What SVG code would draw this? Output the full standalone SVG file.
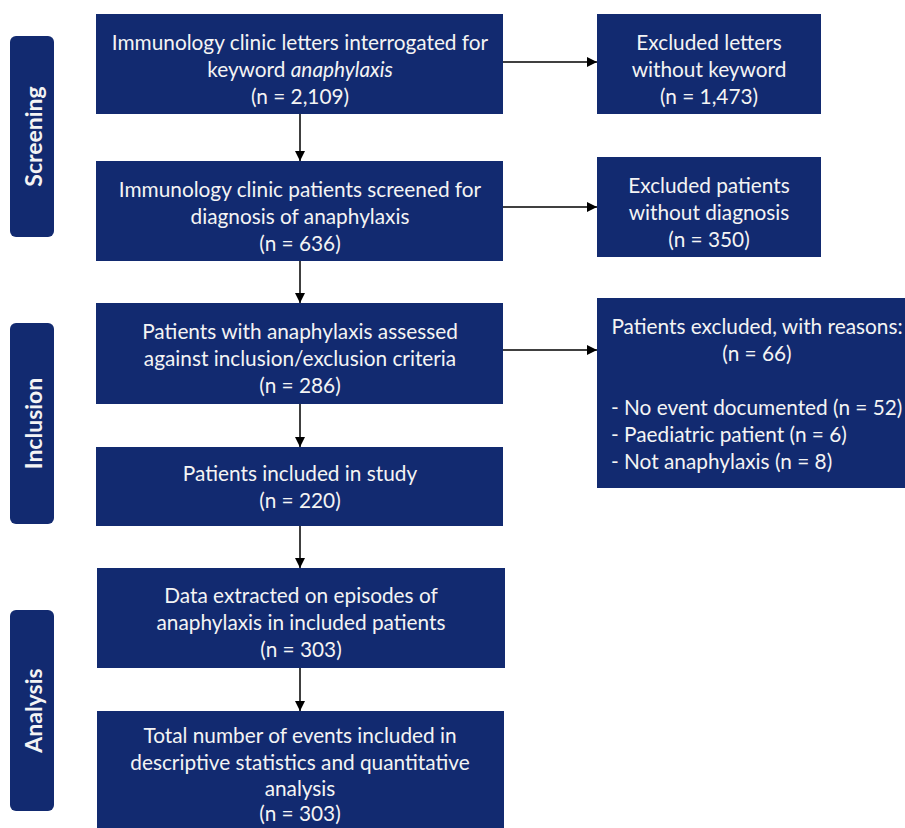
<svg xmlns="http://www.w3.org/2000/svg" width="905" height="828" viewBox="0 0 905 828">
<style>
.box{fill:#122a70;}
.side{fill:#122a70;}
.t{font-family:Lato,"Liberation Sans",sans-serif;font-size:20.8px;fill:#f4f4f4;text-anchor:middle;}
.tl{font-family:Lato,"Liberation Sans",sans-serif;font-size:20.8px;fill:#f4f4f4;}
.s{font-family:Lato,"Liberation Sans",sans-serif;font-size:23px;font-weight:bold;fill:#f4f4f4;text-anchor:middle;}
.c{stroke:#000;stroke-width:1.5;fill:none;}
</style>
<defs>
<marker id="ah" viewBox="0 0 10 10" refX="10" refY="5" markerWidth="10" markerHeight="10" markerUnits="userSpaceOnUse" orient="auto">
<path d="M0,0 L10,5 L0,10 z" fill="#000"/>
</marker>
</defs>
<rect width="905" height="828" fill="#fff"/>
<g id="stage-screening">
<rect class="side" x="10" y="36" width="44" height="201" rx="6"/>
<text class="s" transform="translate(42,136.5) rotate(-90)">Screening</text>
</g>
<g id="stage-inclusion">
<rect class="side" x="10" y="323" width="44" height="201" rx="6"/>
<text class="s" transform="translate(42,423.5) rotate(-90)">Inclusion</text>
</g>
<g id="stage-analysis">
<rect class="side" x="10" y="610" width="44" height="201" rx="6"/>
<text class="s" transform="translate(42,710.5) rotate(-90)">Analysis</text>
</g>
<g id="connectors">
<line class="c" x1="300" y1="114" x2="300" y2="161" marker-end="url(#ah)"/>
<line class="c" x1="300" y1="261" x2="300" y2="303" marker-end="url(#ah)"/>
<line class="c" x1="300" y1="404" x2="300" y2="447" marker-end="url(#ah)"/>
<line class="c" x1="300" y1="526" x2="300" y2="568" marker-end="url(#ah)"/>
<line class="c" x1="300" y1="668" x2="300" y2="711" marker-end="url(#ah)"/>
<line class="c" x1="503" y1="62" x2="597" y2="62" marker-end="url(#ah)"/>
<line class="c" x1="503" y1="207" x2="597" y2="207" marker-end="url(#ah)"/>
<line class="c" x1="503" y1="350" x2="597" y2="350" marker-end="url(#ah)"/>
</g>
<g id="letters">
<rect class="box" x="96" y="14" width="407" height="100"/>
<text class="t" x="300" y="50">Immunology clinic letters interrogated for</text>
<text class="t" x="300" y="77">keyword <tspan font-style="italic">anaphylaxis</tspan></text>
<text class="t" x="300" y="104">(n = 2,109)</text>
</g>
<g id="excluded-letters">
<rect class="box" x="597" y="14" width="224" height="100"/>
<text class="t" x="709" y="50">Excluded letters</text>
<text class="t" x="709" y="77">without keyword</text>
<text class="t" x="709" y="104">(n = 1,473)</text>
</g>
<g id="screened">
<rect class="box" x="96" y="161" width="407" height="100"/>
<text class="t" x="300" y="197">Immunology clinic patients screened for</text>
<text class="t" x="300" y="224">diagnosis of anaphylaxis</text>
<text class="t" x="300" y="251">(n = 636)</text>
</g>
<g id="excluded-patients">
<rect class="box" x="597" y="157" width="224" height="100"/>
<text class="t" x="709" y="193">Excluded patients</text>
<text class="t" x="709" y="220">without diagnosis</text>
<text class="t" x="709" y="247">(n = 350)</text>
</g>
<g id="assessed">
<rect class="box" x="96" y="303" width="407" height="101"/>
<text class="t" x="300" y="339">Patients with anaphylaxis assessed</text>
<text class="t" x="300" y="366">against inclusion/exclusion criteria</text>
<text class="t" x="300" y="393">(n = 286)</text>
</g>
<g id="excluded-reasons">
<rect class="box" x="597" y="298" width="308" height="190"/>
<text class="t" x="757" y="334">Patients excluded, with reasons:</text>
<text class="t" x="757" y="361">(n = 66)</text>
<text class="tl" x="611" y="415">- No event documented (n = 52)</text>
<text class="tl" x="611" y="442">- Paediatric patient (n = 6)</text>
<text class="tl" x="611" y="469">- Not anaphylaxis (n = 8)</text>
</g>
<g id="included">
<rect class="box" x="96" y="447" width="407" height="79"/>
<text class="t" x="300" y="481">Patients included in study</text>
<text class="t" x="300" y="508">(n = 220)</text>
</g>
<g id="data-extracted">
<rect class="box" x="97" y="568" width="408" height="100"/>
<text class="t" x="301" y="603">Data extracted on episodes of</text>
<text class="t" x="301" y="630">anaphylaxis in included patients</text>
<text class="t" x="301" y="657">(n = 303)</text>
</g>
<g id="total-events">
<rect class="box" x="97" y="711" width="407" height="117"/>
<text class="t" x="300" y="743">Total number of events included in</text>
<text class="t" x="300" y="770">descriptive statistics and quantitative</text>
<text class="t" x="300" y="796">analysis</text>
<text class="t" x="300" y="821">(n = 303)</text>
</g>
</svg>
